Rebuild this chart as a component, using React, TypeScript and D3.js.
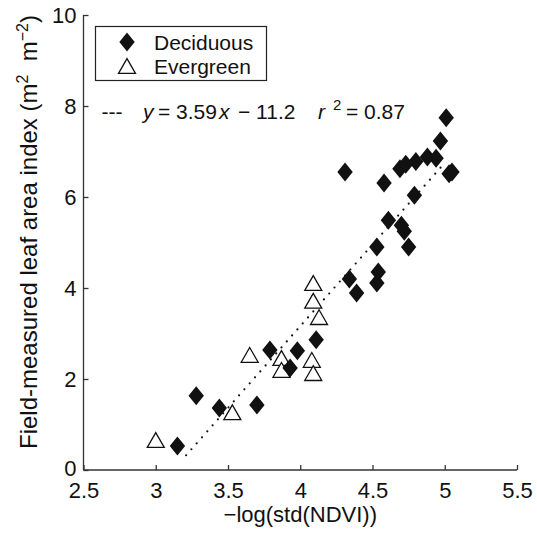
import React, { useEffect, useRef } from 'react';
import * as d3 from 'd3';

// Deciduous sites (filled diamonds)
const deciduousX = [3.15, 3.28, 3.44, 3.70, 3.79, 3.93, 3.98, 4.11, 4.31, 4.34, 4.39, 4.53, 4.54, 4.53, 4.58, 4.61, 4.70, 4.72, 4.75, 4.79, 4.69, 4.73, 4.80, 4.88, 4.94, 4.97, 5.01, 5.03, 5.05];
const deciduousY = [0.53, 1.63, 1.36, 1.43, 2.64, 2.24, 2.62, 2.86, 6.55, 4.20, 3.89, 4.11, 4.35, 4.90, 6.31, 5.49, 5.38, 5.25, 4.90, 6.04, 6.62, 6.72, 6.78, 6.88, 6.85, 7.23, 7.74, 6.51, 6.55];

// Evergreen sites (open triangles)
const evergreenX = [3.00, 3.53, 3.65, 3.87, 3.87, 4.08, 4.09, 4.09, 4.09, 4.13];
const evergreenY = [0.66, 1.27, 2.53, 2.46, 2.20, 2.42, 2.13, 4.11, 3.72, 3.36];

// regression y = 3.59x - 11.2
const fitSlope = 3.59;
const fitIntercept = -11.2;
const fitRange = [3.21, 4.98];

const xTicks = [2.5, 3, 3.5, 4, 4.5, 5, 5.5];
const yTicks = [0, 2, 4, 6, 8, 10];

const FONT = '"Liberation Sans", Arial, Helvetica, sans-serif';

const diamondPath = (cx, cy) => `M${cx},${cy - 9.5}L${cx + 7.7},${cy}L${cx},${cy + 9.5}L${cx - 7.7},${cy}Z`;
const trianglePath = (cx, cy) => `M${cx},${cy - 7.4}L${cx + 8.5},${cy + 7.4}L${cx - 8.5},${cy + 7.4}Z`;

const App = () => {
  const chartRef = useRef(null);

  useEffect(() => {
    const svg = d3.select(chartRef.current);
    svg.selectAll('*').remove();

    const x = d3.scaleLinear().domain([2.5, 5.5]).range([83.5, 517]);
    const y = d3.scaleLinear().domain([0, 10]).range([470, 15]);
    const axisColor = '#333';

    // axes (inward ticks, left and bottom only)
    const xAxis = d3.axisBottom(x).tickValues(xTicks).tickSize(-5).tickPadding(12)
      .tickFormat(d => String(d));
    const yAxis = d3.axisLeft(y).tickValues(yTicks).tickSize(-5).tickPadding(7)
      .tickFormat(d => String(d));

    const gx = svg.append('g').attr('transform', `translate(0,${y(0)})`).call(xAxis);
    const gy = svg.append('g').attr('transform', `translate(${x(2.5)},0)`).call(yAxis);
    [gx, gy].forEach(g => {
      g.select('.domain').attr('stroke', axisColor).attr('stroke-width', 1.3);
      g.selectAll('.tick line').attr('stroke', axisColor).attr('stroke-width', 1.3);
      g.selectAll('.tick text').attr('fill', '#111').style('font-family', FONT).style('font-size', '22px');
    });
    gx.select('.domain').attr('d', `M${x(2.5)},0H${x(5.5)}`);
    gy.select('.domain').attr('d', `M0,${y(0)}V${y(10)}`);
    // the y "0" sits just above the x "2.5", as in the original
    gy.selectAll('.tick text').filter(d => d === 0).attr('dy', '0.25em');

    // dotted regression line
    svg.append('line')
      .attr('x1', x(fitRange[0])).attr('y1', y(fitSlope * fitRange[0] + fitIntercept))
      .attr('x2', x(fitRange[1])).attr('y2', y(fitSlope * fitRange[1] + fitIntercept))
      .attr('stroke', '#111').attr('stroke-width', 2.2)
      .attr('stroke-linecap', 'round').attr('stroke-dasharray', '0 8');

    // evergreen triangles
    svg.append('g').selectAll('path')
      .data(d3.zip(evergreenX, evergreenY))
      .enter().append('path')
      .attr('d', d => trianglePath(x(d[0]), y(d[1])))
      .attr('fill', '#fff').attr('stroke', '#111').attr('stroke-width', 1.3);

    // deciduous diamonds
    svg.append('g').selectAll('path')
      .data(d3.zip(deciduousX, deciduousY))
      .enter().append('path')
      .attr('d', d => diamondPath(x(d[0]), y(d[1])))
      .attr('fill', '#111');

    // legend
    const legend = svg.append('g');
    legend.append('rect').attr('x', 95.5).attr('y', 26.5).attr('width', 171).attr('height', 54)
      .attr('fill', '#fff').attr('stroke', '#222').attr('stroke-width', 1.2);
    legend.append('path').attr('d', diamondPath(127, 42)).attr('fill', '#111');
    legend.append('path').attr('d', trianglePath(127, 66)).attr('fill', '#fff')
      .attr('stroke', '#111').attr('stroke-width', 1.3);
    legend.append('text').attr('x', 154).attr('y', 49.5).text('Deciduous')
      .style('font-family', FONT).style('font-size', '21px').attr('fill', '#111');
    legend.append('text').attr('x', 154).attr('y', 73.5).text('Evergreen')
      .style('font-family', FONT).style('font-size', '21px').attr('fill', '#111');

    // regression equation, pieces placed like the TeX-spaced original
    const eqText = (tx, txt, italic = false) =>
      svg.append('text').attr('x', tx).attr('y', 119).text(txt)
        .style('font-family', FONT).style('font-size', '21px')
        .style('font-style', italic ? 'italic' : 'normal')
        .attr('fill', '#111').attr('xml:space', 'preserve');
    eqText(101.5, '---');
    eqText(143, 'y', true);
    eqText(158, '= 3.59');
    eqText(219, 'x', true);
    eqText(238, '\u2212 11.2');
    eqText(318, 'r', true);
    svg.append('text').attr('x', 333).attr('y', 110).text('2')
      .style('font-family', FONT).style('font-size', '15px').attr('fill', '#111');
    eqText(346, '= 0.87');

    // axis titles
    svg.append('text').attr('x', x(4)).attr('y', 522).attr('text-anchor', 'middle')
      .style('font-family', FONT).style('font-size', '22px').attr('fill', '#111')
      .text('\u2212log(std(NDVI))');

    const yl = svg.append('text').attr('transform', 'translate(37,232) rotate(-90)')
      .attr('text-anchor', 'middle')
      .style('font-family', FONT).style('font-size', '24px').attr('fill', '#111')
      .attr('xml:space', 'preserve');
    yl.append('tspan').text('Field-measured leaf area index (m');
    yl.append('tspan').attr('dy', -9).style('font-size', '16px').text('2');
    yl.append('tspan').attr('dy', 9).text('  m');
    yl.append('tspan').attr('dy', -9).style('font-size', '16px').text('\u22122');
    yl.append('tspan').attr('dy', 9).text(')');
  }, []);

  return (
    <div style={{ position: 'absolute', left: 0, top: 0 }}>
      <svg ref={chartRef} width={537} height={535} style={{ display: 'block', background: '#fff' }} />
    </div>
  );
};

export default App;
